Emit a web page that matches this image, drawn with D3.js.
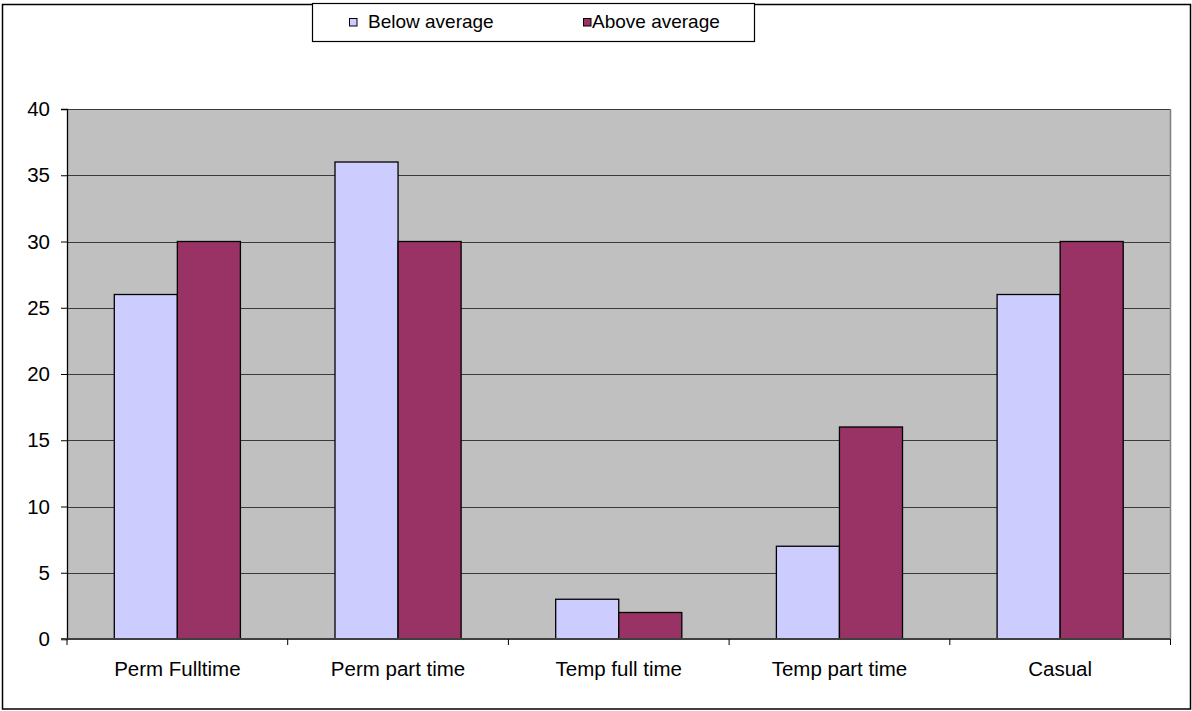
<!DOCTYPE html>
<html>
<head>
<meta charset="utf-8">
<script src="https://cdn.jsdelivr.net/npm/d3@7"></script>
<style>
  html, body { margin: 0; padding: 0; background: #fff; }
  svg { display: block; font-family: "Liberation Sans", Arial, sans-serif; }
</style>
</head>
<body>
<svg id="chart" width="1192" height="711"></svg>
<script>
// Employment type categories and the two series
const categories = ["Perm Fulltime", "Perm part time", "Temp full time", "Temp part time", "Casual"];
const seriesNames = ["Below average", "Above average"];
const belowAverage = [26, 36, 3, 7, 26];
const aboveAverage = [30, 30, 2, 16, 30];
const yTicks = [0, 5, 10, 15, 20, 25, 30, 35, 40];

const colors = ["#CCCCFF", "#993366"];
const seriesValues = [belowAverage, aboveAverage];

const svg = d3.select("#chart");
const plot = { left: 67, top: 109, right: 1170.5, bottom: 639 };
const axisFont = 20.5;
const legendFont = 19;

// outer chart frame
svg.append("rect")
  .attr("x", 2.5).attr("y", 4.5)
  .attr("width", 1188).attr("height", 704.5)
  .attr("fill", "#fff").attr("stroke", "#000").attr("stroke-width", 1.5);

const y = d3.scaleLinear().domain([0, 40]).range([plot.bottom, plot.top]);
const gap = 1.5 / 3.5;
const x = d3.scaleBand().domain(categories)
  .range([plot.left, plot.right])
  .paddingInner(gap).paddingOuter(gap / 2);
const xs = d3.scaleBand().domain(seriesNames).range([0, x.bandwidth()]);

// plot background
svg.append("rect")
  .attr("x", plot.left).attr("y", plot.top)
  .attr("width", plot.right - plot.left).attr("height", plot.bottom - plot.top)
  .attr("fill", "#C0C0C0");

// horizontal gridlines
svg.append("g").selectAll("line")
  .data(yTicks.filter(d => d > 0))
  .join("line")
  .attr("x1", plot.left).attr("x2", plot.right)
  .attr("y1", d => Math.round(y(d)) + 0.5).attr("y2", d => Math.round(y(d)) + 0.5)
  .attr("stroke", "#3a3a3a").attr("stroke-width", 1);

// plot area border (right side)
svg.append("line")
  .attr("x1", plot.right).attr("x2", plot.right)
  .attr("y1", plot.top).attr("y2", plot.bottom)
  .attr("stroke", "#808080").attr("stroke-width", 1.5);

// bars
const groups = svg.append("g").selectAll("g")
  .data(categories)
  .join("g")
  .attr("transform", d => `translate(${x(d)},0)`);

groups.selectAll("rect")
  .data((c, i) => seriesNames.map((s, k) => ({ s, v: seriesValues[k][i], k })))
  .join("rect")
  .attr("x", d => xs(d.s))
  .attr("y", d => y(d.v))
  .attr("width", xs.bandwidth())
  .attr("height", d => y(0) - y(d.v))
  .attr("fill", d => colors[d.k])
  .attr("stroke", "#000").attr("stroke-width", 1.3);

// y axis
const yAxis = svg.append("g").attr("transform", `translate(${plot.left},0)`)
  .call(d3.axisLeft(y).tickValues(yTicks).tickSize(6).tickPadding(11));
yAxis.select(".domain").attr("stroke", "#000").attr("stroke-width", 1.3);
yAxis.selectAll(".tick line").attr("stroke", "#000");
yAxis.selectAll(".tick text")
  .attr("font-size", axisFont).attr("fill", "#000")
  .attr("font-family", "Liberation Sans, Arial, sans-serif");

// x axis: baseline, boundary ticks and category labels
svg.append("line")
  .attr("x1", plot.left - 6).attr("x2", plot.right)
  .attr("y1", plot.bottom).attr("y2", plot.bottom)
  .attr("stroke", "#404040").attr("stroke-width", 2);

const step = x.step();
svg.append("g").selectAll("line")
  .data(d3.range(categories.length + 1))
  .join("line")
  .attr("x1", i => plot.left + i * step).attr("x2", i => plot.left + i * step)
  .attr("y1", plot.bottom).attr("y2", plot.bottom + 6)
  .attr("stroke", "#000").attr("stroke-width", 1);

svg.append("g").selectAll("text")
  .data(categories)
  .join("text")
  .attr("x", d => x(d) + x.bandwidth() / 2)
  .attr("y", 676)
  .attr("text-anchor", "middle")
  .attr("font-size", axisFont)
  .attr("fill", "#000")
  .text(d => d);

// legend
const legend = svg.append("g");
legend.append("rect")
  .attr("x", 312.5).attr("y", 3.5).attr("width", 442).attr("height", 38)
  .attr("fill", "#fff").attr("stroke", "#000").attr("stroke-width", 1.2);

const legendItems = [
  { name: seriesNames[0], color: colors[0], sx: 349.5, tx: 368 },
  { name: seriesNames[1], color: colors[1], sx: 583.5, tx: 592 }
];
legendItems.forEach(it => {
  legend.append("rect")
    .attr("x", it.sx).attr("y", 18.5).attr("width", 7.5).attr("height", 7.5)
    .attr("fill", it.color).attr("stroke", "#000").attr("stroke-width", 1);
  legend.append("text")
    .attr("x", it.tx).attr("y", 28)
    .attr("font-size", legendFont).attr("fill", "#000")
    .text(it.name);
});
</script>
</body>
</html>
